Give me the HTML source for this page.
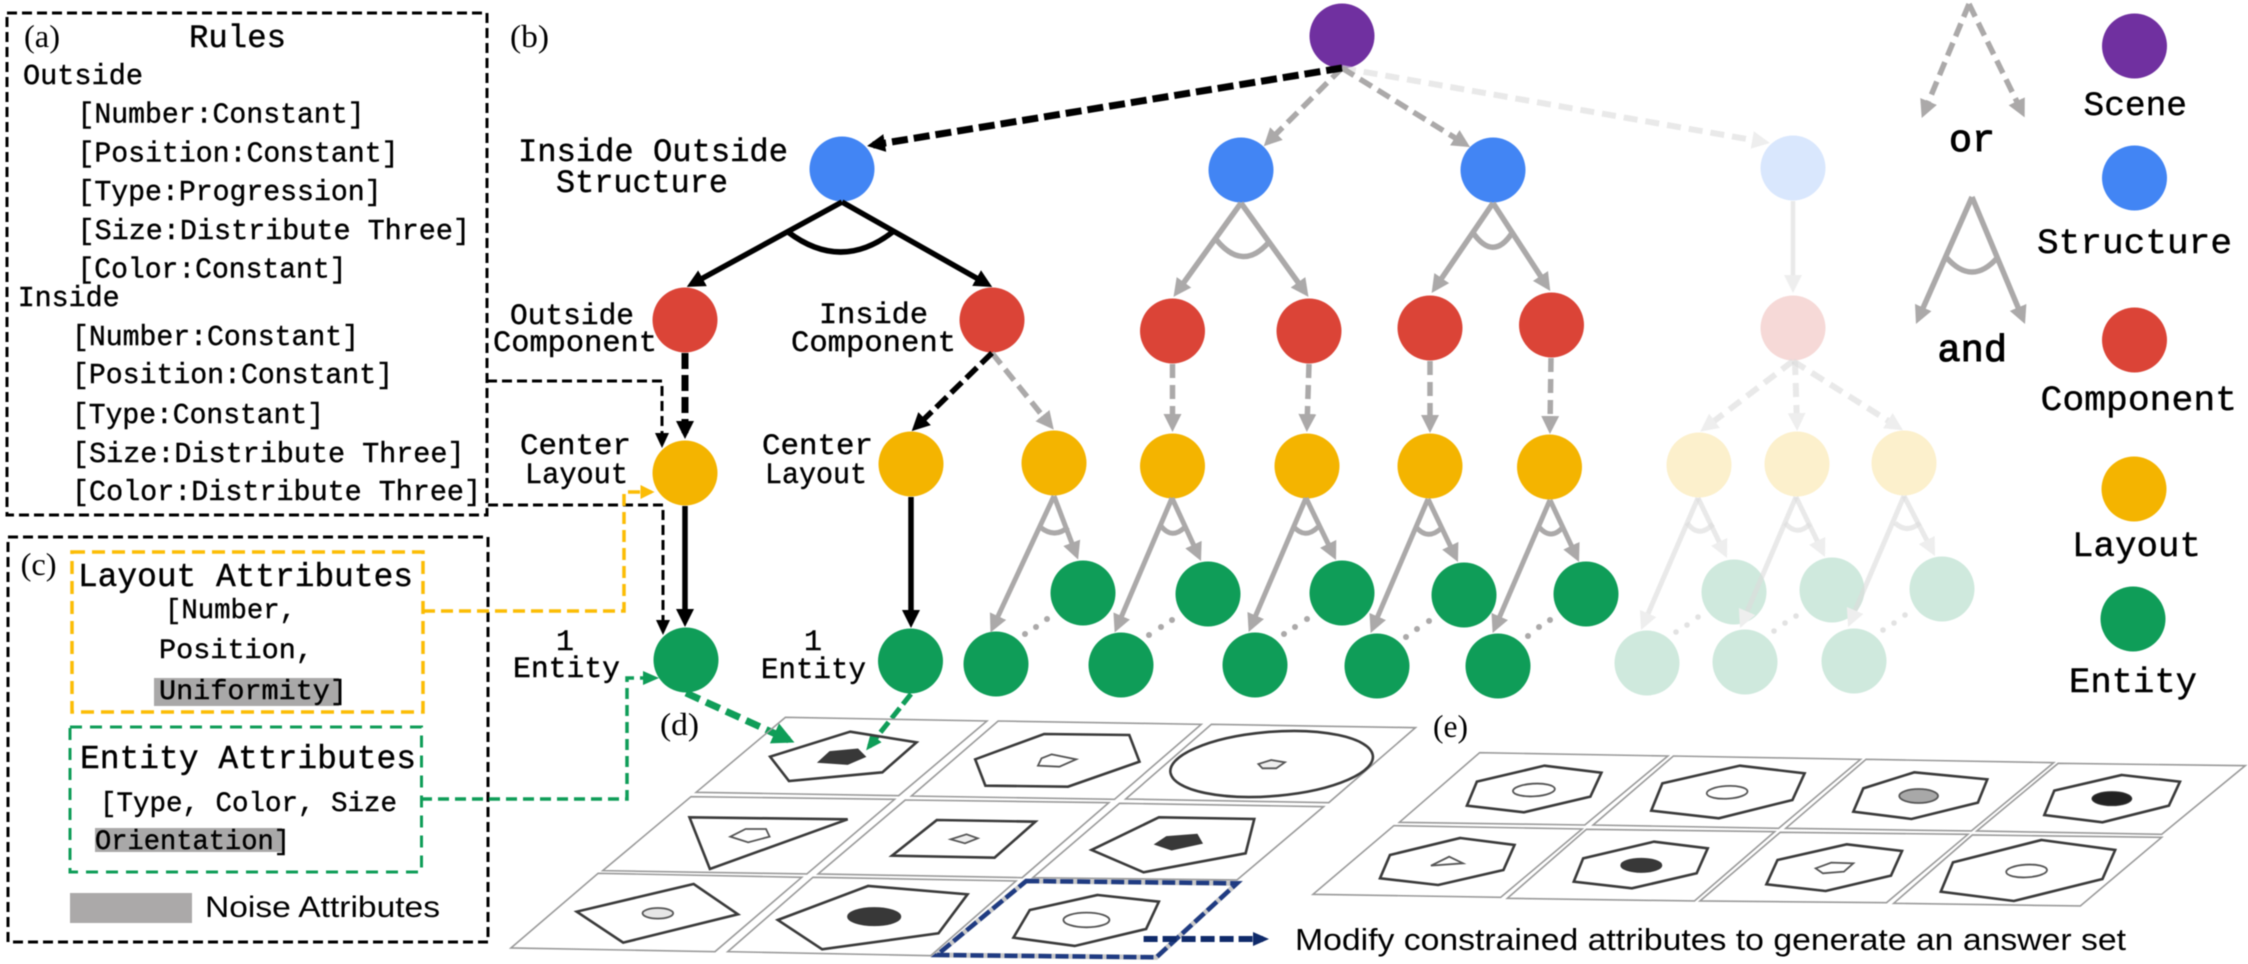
<!DOCTYPE html>
<html lang="en"><head><meta charset="utf-8"><title>Diagram</title>
<style>
html,body{margin:0;padding:0;background:#fff;width:2248px;height:964px;overflow:hidden}
svg{display:block;filter:blur(.4px)}
text{fill:#000}
.m{font-family:"Liberation Mono",monospace;stroke:#000;stroke-width:.4}
.b{stroke-width:1}
.s{font-family:"Liberation Serif",serif;font-size:32px}
.a{font-family:"Liberation Sans",sans-serif}
.r{font-size:28.4px}
.k{fill:none;stroke:#000}
.g{fill:none;stroke:#aba9a9}
.cell{fill:none;stroke:#9a9a9a;stroke-width:1.6;vector-effect:non-scaling-stroke}
.sh{fill:none;stroke:#3a3a3a;stroke-width:2.6;vector-effect:non-scaling-stroke}
.in{fill:#fff;stroke:#555;stroke-width:1.8;vector-effect:non-scaling-stroke}
.dk{fill:#383838;stroke:#383838;stroke-width:1;vector-effect:non-scaling-stroke}
</style></head><body>
<svg width="2248" height="964" viewBox="0 0 2248 964" xmlns="http://www.w3.org/2000/svg">
<defs>
<marker id="ak" markerUnits="userSpaceOnUse" markerWidth="20" markerHeight="20" refX="12" refY="10" orient="auto"><path d="M0,1 L18,10 L0,19 Z" fill="#000"/></marker>
<marker id="ag" markerUnits="userSpaceOnUse" markerWidth="20" markerHeight="20" refX="12" refY="10" orient="auto"><path d="M0,1 L18,10 L0,19 Z" fill="#aba9a9"/></marker>
<marker id="af" markerUnits="userSpaceOnUse" markerWidth="20" markerHeight="20" refX="12" refY="10" orient="auto"><path d="M0,1 L18,10 L0,19 Z" fill="#eee"/></marker>
<marker id="as" markerUnits="userSpaceOnUse" markerWidth="16" markerHeight="16" refX="12" refY="8" orient="auto"><path d="M0,1 L15,8 L0,15 Z" fill="#000"/></marker>
<marker id="ay" markerUnits="userSpaceOnUse" markerWidth="16" markerHeight="16" refX="11" refY="8" orient="auto"><path d="M0,1 L14,8 L0,15 Z" fill="#fbbc05"/></marker>
<marker id="an" markerUnits="userSpaceOnUse" markerWidth="18" markerHeight="16" refX="13" refY="8" orient="auto"><path d="M0,1 L16,8 L0,15 Z" fill="#0f9d58"/></marker>
<marker id="aG" markerUnits="userSpaceOnUse" markerWidth="24" markerHeight="24" refX="16" refY="12" orient="auto"><path d="M0,1 L22,12 L0,23 Z" fill="#0f9d58"/></marker>
<marker id="aN" markerUnits="userSpaceOnUse" markerWidth="18" markerHeight="16" refX="10" refY="8" orient="auto"><path d="M0,1 L16,8 L0,15 Z" fill="#0f2a6a"/></marker>
</defs>

<!-- panel boxes -->
<rect x="7" y="13" width="480" height="502" fill="none" stroke="#000" stroke-width="3" stroke-dasharray="10 5"/>
<rect x="8" y="537" width="480" height="405" fill="none" stroke="#000" stroke-width="3" stroke-dasharray="10 5"/>
<rect x="72" y="552" width="351" height="160" fill="none" stroke="#fbbc05" stroke-width="3.5" stroke-dasharray="13 7"/>
<rect x="70" y="727" width="351.5" height="145" fill="none" stroke="#0f9d58" stroke-width="3" stroke-dasharray="12 8"/>
<rect x="154" y="678" width="185" height="28" fill="#a9a8a8"/>
<rect x="95" y="828" width="187" height="24" fill="#a9a8a8"/>
<rect x="70" y="893" width="122" height="30" fill="#aba9a9"/>

<!-- panel a text -->
<text class="s" x="24" y="47" textLength="36" lengthAdjust="spacingAndGlyphs">(a)</text>
<text class="m" x="189" y="47" font-size="32" textLength="97" lengthAdjust="spacingAndGlyphs">Rules</text>
<text class="m r" x="23" y="84" textLength="120" lengthAdjust="spacingAndGlyphs">Outside</text>
<text class="m r" x="77.5" y="122.7" textLength="287" lengthAdjust="spacingAndGlyphs">[Number:Constant]</text>
<text class="m r" x="77.5" y="161.7" textLength="321" lengthAdjust="spacingAndGlyphs">[Position:Constant]</text>
<text class="m r" x="77.5" y="200" textLength="304" lengthAdjust="spacingAndGlyphs">[Type:Progression]</text>
<text class="m r" x="77.5" y="239" textLength="392.5" lengthAdjust="spacingAndGlyphs">[Size:Distribute Three]</text>
<text class="m r" x="77.5" y="277.7" textLength="269" lengthAdjust="spacingAndGlyphs">[Color:Constant]</text>
<text class="m r" x="17.7" y="306" textLength="102" lengthAdjust="spacingAndGlyphs">Inside</text>
<text class="m r" x="72" y="345" textLength="287" lengthAdjust="spacingAndGlyphs">[Number:Constant]</text>
<text class="m r" x="72" y="383" textLength="321" lengthAdjust="spacingAndGlyphs">[Position:Constant]</text>
<text class="m r" x="72" y="423" textLength="252" lengthAdjust="spacingAndGlyphs">[Type:Constant]</text>
<text class="m r" x="72" y="462" textLength="392.5" lengthAdjust="spacingAndGlyphs">[Size:Distribute Three]</text>
<text class="m r" x="72" y="500" textLength="409" lengthAdjust="spacingAndGlyphs">[Color:Distribute Three]</text>

<!-- panel c text -->
<text class="s" x="20.6" y="575" textLength="36" lengthAdjust="spacingAndGlyphs">(c)</text>
<text class="m" x="78" y="586" font-size="33" textLength="335" lengthAdjust="spacingAndGlyphs">Layout Attributes</text>
<text class="m" x="165" y="618" font-size="28" textLength="131" lengthAdjust="spacingAndGlyphs">[Number,</text>
<text class="m" x="159" y="658" font-size="28" textLength="154" lengthAdjust="spacingAndGlyphs">Position,</text>
<text class="m" x="159" y="699" font-size="28" textLength="188" lengthAdjust="spacingAndGlyphs">Uniformity]</text>
<text class="m" x="80" y="768" font-size="33" textLength="336" lengthAdjust="spacingAndGlyphs">Entity Attributes</text>
<text class="m" x="100" y="811" font-size="28" textLength="297" lengthAdjust="spacingAndGlyphs">[Type, Color, Size</text>
<text class="m" x="95" y="849" font-size="28" textLength="195" lengthAdjust="spacingAndGlyphs">Orientation]</text>
<text class="a" x="205" y="917" font-size="30" textLength="235" lengthAdjust="spacingAndGlyphs">Noise Attributes</text>

<!-- tree labels -->
<text class="s" x="510" y="47" textLength="39" lengthAdjust="spacingAndGlyphs">(b)</text>
<text class="m" x="518" y="161" font-size="32" textLength="270" lengthAdjust="spacingAndGlyphs">Inside Outside</text>
<text class="m" x="556" y="192" font-size="32" textLength="172" lengthAdjust="spacingAndGlyphs">Structure</text>
<text class="m" x="510" y="324" font-size="30" textLength="124" lengthAdjust="spacingAndGlyphs">Outside</text>
<text class="m" x="493" y="351" font-size="30" textLength="164" lengthAdjust="spacingAndGlyphs">Component</text>
<text class="m" x="520" y="454" font-size="30" textLength="111" lengthAdjust="spacingAndGlyphs">Center</text>
<text class="m" x="525" y="483" font-size="30" textLength="103" lengthAdjust="spacingAndGlyphs">Layout</text>
<text class="m" x="556" y="650" font-size="30">1</text>
<text class="m" x="513" y="677" font-size="30" textLength="107" lengthAdjust="spacingAndGlyphs">Entity</text>
<text class="m" x="819" y="323" font-size="30" textLength="109" lengthAdjust="spacingAndGlyphs">Inside</text>
<text class="m" x="791" y="351" font-size="30" textLength="165" lengthAdjust="spacingAndGlyphs">Component</text>
<text class="m" x="762" y="454" font-size="30" textLength="111" lengthAdjust="spacingAndGlyphs">Center</text>
<text class="m" x="765" y="483" font-size="30" textLength="102" lengthAdjust="spacingAndGlyphs">Layout</text>
<text class="m" x="804" y="650" font-size="30">1</text>
<text class="m" x="761" y="678" font-size="30" textLength="105" lengthAdjust="spacingAndGlyphs">Entity</text>
<text class="s" x="660" y="735" textLength="39" lengthAdjust="spacingAndGlyphs">(d)</text>
<text class="s" x="1433" y="737" textLength="35" lengthAdjust="spacingAndGlyphs">(e)</text>

<!-- legend labels -->
<text class="m" x="2083.5" y="115" font-size="34" textLength="103.5" lengthAdjust="spacingAndGlyphs">Scene</text>
<text class="m b" x="1949" y="151" font-size="38" textLength="46" lengthAdjust="spacingAndGlyphs">or</text>
<text class="m b" x="1937.5" y="361" font-size="38" textLength="69.5" lengthAdjust="spacingAndGlyphs">and</text>
<text class="m" x="2037" y="253" font-size="35" textLength="195" lengthAdjust="spacingAndGlyphs">Structure</text>
<text class="m" x="2040.5" y="410" font-size="35" textLength="196.5" lengthAdjust="spacingAndGlyphs">Component</text>
<text class="m" x="2072" y="556" font-size="35" textLength="129" lengthAdjust="spacingAndGlyphs">Layout</text>
<text class="m" x="2069" y="692" font-size="35" textLength="128" lengthAdjust="spacingAndGlyphs">Entity</text>

<!-- nodes -->
<g fill="#7030a0"><circle cx="1342" cy="36" r="32.5"/><circle cx="2134.5" cy="46" r="32.5"/></g>
<g fill="#4285f4"><circle cx="842" cy="169" r="32.5"/><circle cx="1241" cy="170" r="32.5"/><circle cx="1493" cy="170" r="32.5"/><circle cx="2134.5" cy="178" r="32.5"/></g>
<g fill="#db4437"><circle cx="685" cy="320" r="32.5"/><circle cx="992" cy="320" r="32.5"/><circle cx="1172.5" cy="331" r="32.5"/><circle cx="1309" cy="331" r="32.5"/><circle cx="1430" cy="328" r="32.5"/><circle cx="1551.5" cy="325" r="32.5"/><circle cx="2134.5" cy="340" r="32.5"/></g>
<g fill="#f4b400"><circle cx="685" cy="473" r="32.5"/><circle cx="911" cy="464" r="32.5"/><circle cx="1054" cy="463" r="32.5"/><circle cx="1172.5" cy="466" r="32.5"/><circle cx="1307" cy="466" r="32.5"/><circle cx="1430" cy="466" r="32.5"/><circle cx="1549.5" cy="467" r="32.5"/><circle cx="2134" cy="489" r="32.5"/></g>
<g fill="#0f9d58"><circle cx="686" cy="660" r="32.5"/><circle cx="910.5" cy="661" r="32.5"/><circle cx="1083" cy="593" r="32.5"/><circle cx="1208" cy="594" r="32.5"/><circle cx="1342" cy="593" r="32.5"/><circle cx="1464" cy="595" r="32.5"/><circle cx="1586" cy="594" r="32.5"/><circle cx="996" cy="664" r="32.5"/><circle cx="1121" cy="665" r="32.5"/><circle cx="1255" cy="665" r="32.5"/><circle cx="1377" cy="666" r="32.5"/><circle cx="1498" cy="666" r="32.5"/><circle cx="2133" cy="619" r="32.5"/></g>
<circle cx="1793" cy="168" r="32.5" fill="#d9e7fd"/>
<circle cx="1793" cy="328" r="32.5" fill="#f6d9d7"/>
<g fill="#fcf0cc"><circle cx="1699" cy="465" r="32.5"/><circle cx="1797" cy="464" r="32.5"/><circle cx="1904" cy="463" r="32.5"/></g>
<g fill="#cfe9dd"><circle cx="1734" cy="592" r="32.5"/><circle cx="1832" cy="590" r="32.5"/><circle cx="1942" cy="589" r="32.5"/><circle cx="1647" cy="663" r="32.5"/><circle cx="1745" cy="662" r="32.5"/><circle cx="1854" cy="661" r="32.5"/></g>

<!-- faded arrows -->
<g stroke="#dcdcdc" stroke-opacity=".62" fill="none" stroke-width="6">
<path d="M1342,68 L1764,142" stroke-dasharray="14 8" marker-end="url(#af)"/>
<path d="M1793,201 L1793,287" stroke-width="4.5" marker-end="url(#af)"/>
<path d="M1793,361 L1705,428" stroke-dasharray="14 8" marker-end="url(#af)"/>
<path d="M1795,361 L1797,425" stroke-dasharray="14 8" marker-end="url(#af)"/>
<path d="M1793,361 L1898,427" stroke-dasharray="14 8" marker-end="url(#af)"/>
<g stroke-width="5">
<path d="M1698,498 L1643.4,624.5" marker-end="url(#af)"/><path d="M1698,498 L1724.4,552.6" marker-end="url(#af)"/><path d="M1687,523 Q1699,539 1713,524"/>
<path d="M1796,497 L1742.4,622.5" marker-end="url(#af)"/><path d="M1796,497 L1822.4,551.6" marker-end="url(#af)"/><path d="M1785,523 Q1797,537 1810,524"/>
<path d="M1904,496 L1850.4,621.5" marker-end="url(#af)"/><path d="M1904,496 L1932.2,550.7" marker-end="url(#af)"/><path d="M1895,523 Q1907,534 1920,523"/>
</g></g>
<g fill="#e2e2e2">
<circle cx="1676" cy="632" r="2.8"/><circle cx="1687" cy="625" r="2.8"/><circle cx="1698" cy="617" r="2.8"/>
<circle cx="1774" cy="631" r="2.8"/><circle cx="1785" cy="623" r="2.8"/><circle cx="1796" cy="616" r="2.8"/>
<circle cx="1883" cy="630" r="2.8"/><circle cx="1894" cy="623" r="2.8"/><circle cx="1905" cy="615" r="2.8"/>
</g>

<!-- grey arrows -->
<g class="g" stroke-width="5.5">
<path d="M1342,68 L1268,142" stroke-dasharray="14 7" marker-end="url(#ag)"/>
<path d="M1342,68 L1465,144" stroke-dasharray="14 7" marker-end="url(#ag)"/>
<path d="M1241,203 L1177,292" marker-end="url(#ag)"/><path d="M1241,203 L1305,292" marker-end="url(#ag)"/><path d="M1216.5,240 Q1243,272 1269,242"/>
<path d="M1493,203 L1435,288" marker-end="url(#ag)"/><path d="M1493,203 L1547,286" marker-end="url(#ag)"/><path d="M1472.5,232 Q1493,262 1512,233"/>
<g stroke-dasharray="14 7">
<path d="M992,353 L1050,425" marker-end="url(#ag)"/>
<path d="M1172.5,364 L1172.5,426" marker-end="url(#ag)"/>
<path d="M1309,364 L1307,426" marker-end="url(#ag)"/>
<path d="M1430,361 L1430,427" marker-end="url(#ag)"/>
<path d="M1551,358 L1550,428" marker-end="url(#ag)"/>
</g>
<g stroke-width="5">
<path d="M1054,496 L993,627" marker-end="url(#ag)"/><path d="M1054,496 L1076,554" marker-end="url(#ag)"/><path d="M1040,527 Q1055,539 1068,527"/>
<path d="M1172,498 L1117,627" marker-end="url(#ag)"/><path d="M1172,498 L1198.5,555.5" marker-end="url(#ag)"/><path d="M1161,526 Q1172,540 1185,527"/>
<path d="M1306,498 L1251,626.5" marker-end="url(#ag)"/><path d="M1306,498 L1333.4,554.6" marker-end="url(#ag)"/><path d="M1293,526 Q1305,540 1318,527"/>
<path d="M1428,499 L1373,627.5" marker-end="url(#ag)"/><path d="M1428,499 L1455.4,556.6" marker-end="url(#ag)"/><path d="M1416,527 Q1428,541 1441.5,528"/>
<path d="M1550,500 L1495,627.5" marker-end="url(#ag)"/><path d="M1550,500 L1576.5,556.6" marker-end="url(#ag)"/><path d="M1539,527 Q1551,541 1563,527"/>
</g>
<path d="M1969,4 L1924,112.5" stroke-dasharray="14 7" marker-end="url(#ag)"/>
<path d="M1969,4 L2022,112" stroke-dasharray="14 7" marker-end="url(#ag)"/>
<path d="M1972,197 L1918.4,318.5" marker-end="url(#ag)"/>
<path d="M1972,197 L2022.7,318.5" marker-end="url(#ag)"/>
<path d="M1946,257 Q1972,287 1998,257"/>
</g>
<g fill="#aba9a9">
<circle cx="1025" cy="634" r="3"/><circle cx="1036" cy="627" r="3"/><circle cx="1047" cy="619" r="3"/>
<circle cx="1149" cy="635" r="3"/><circle cx="1161" cy="627" r="3"/><circle cx="1172" cy="620" r="3"/>
<circle cx="1284" cy="634" r="3"/><circle cx="1295" cy="627" r="3"/><circle cx="1307" cy="619" r="3"/>
<circle cx="1406" cy="637" r="3"/><circle cx="1417" cy="629" r="3"/><circle cx="1429" cy="621" r="3"/>
<circle cx="1528" cy="636" r="3"/><circle cx="1539" cy="627" r="3"/><circle cx="1550" cy="620" r="3"/>
</g>

<!-- black arrows -->
<g class="k" stroke-width="7">
<path d="M1342,68 L873,145" stroke-dasharray="16 6" marker-end="url(#ak)"/>
<path d="M842,202 L692,284" stroke-width="5.5" marker-end="url(#ak)"/>
<path d="M842,202 L987,284" stroke-width="5.5" marker-end="url(#ak)"/>
<path d="M788,232 Q841,272 892.6,232" stroke-width="5.5"/>
<path d="M685,353 L685,433" stroke-dasharray="16 6" marker-end="url(#ak)"/>
<path d="M992,353 L916,427" stroke-width="5.5" stroke-dasharray="15 6" marker-end="url(#ak)"/>
<path d="M685,506 L685,621" stroke-width="5.5" marker-end="url(#ak)"/>
<path d="M911,497 L911,622" stroke-width="5.5" marker-end="url(#ak)"/>
<path d="M487,381 H662 V445" stroke-width="3" stroke-dasharray="10 5" marker-end="url(#as)"/>
<path d="M488,505 H663 V632" stroke-width="3" stroke-dasharray="10 5" marker-end="url(#as)"/>
</g>
<path d="M423,611 H624 V492 H651.5" fill="none" stroke="#fbbc05" stroke-width="3.5" stroke-dasharray="12 6" marker-end="url(#ay)"/>
<path d="M421,799 H627 V678 H656" fill="none" stroke="#0f9d58" stroke-width="3.5" stroke-dasharray="11 6" marker-end="url(#an)"/>
<path d="M686,693 L789,740" fill="none" stroke="#0f9d58" stroke-width="7" stroke-dasharray="15 7" marker-end="url(#aG)"/>
<path d="M911,694 L868,748" fill="none" stroke="#0f9d58" stroke-width="5" stroke-dasharray="13 5" marker-end="url(#an)"/>

<!-- panel d -->
<g transform="translate(590,700) scale(.5102,.3333)">
<path class="cell" d="M383,52L778,63L605,287L208,277Z"/>
<path class="cell" d="M800,63L1198,73L1028,298L630,288Z"/>
<path class="cell" d="M1218,73L1618,83L1448,308L1050,297Z"/>
<path class="cell" d="M198,290L597,298L425,522L25,512Z"/>
<path class="cell" d="M618,300L1017,308L847,533L447,522Z"/>
<path class="cell" d="M1038,310L1438,320L1268,540L868,533Z"/>
<path class="cell" d="M415,532L245,755L-155,744L16,520Z"/>
<path class="cell" d="M437,532L835,543L668,767L270,755Z"/>
<path class="sh" d="M510,95L640,127L573,217L390,243L353,170Z"/>
<path class="dk" d="M470,155L525,147L540,170L505,193L447,187Z"/>
<path class="sh" d="M890,102L1057,105L1077,185L937,260L775,257L755,178Z"/>
<path class="in" d="M905,163L953,178L920,200L878,197L885,175Z"/>
<ellipse class="sh" cx="1336" cy="192" rx="200" ry="96" transform="rotate(-8 1336 192)"/>
<path class="in" d="M1335,180L1362,187L1345,205L1318,205L1310,192Z" style="fill:#eee"/>
<path class="sh" d="M195,352L505,358L235,507Z"/>
<path class="in" d="M305,387L345,387L352,410L310,427L275,410Z"/>
<path class="sh" d="M680,360L873,365L793,473L592,467Z"/>
<path class="in" d="M738,403L760,415L735,430L707,418Z" style="fill:#eee"/>
<path class="sh" d="M1115,352L1302,357L1285,460L1085,517L983,450Z"/>
<path class="dk" d="M1130,410L1190,403L1200,430L1140,450L1107,433Z"/>
<path class="sh" d="M203,552L290,643L65,728L-26,635Z"/>
<ellipse class="in" cx="133" cy="640" rx="30" ry="16" style="fill:#e6e6e6"/>
<path class="sh" d="M545,558L740,583L683,700L455,748L368,660Z"/>
<ellipse class="dk" cx="557" cy="650" rx="52" ry="27"/>
<path class="sh" d="M995,585L1115,605L1090,687L950,738L830,713L862,630Z"/>
<ellipse class="in" cx="973" cy="660" rx="45" ry="22"/>
<path class="cell" d="M855,543L1268,550L1110,772L680,765Z" style="stroke:#c8c8c8;stroke-width:5"/>
<path d="M855,543L1268,550L1110,772L680,765Z" fill="none" stroke="#1f3b82" stroke-width="4.5" stroke-dasharray="13 4" style="vector-effect:non-scaling-stroke"/>
</g>

<!-- panel e -->
<g transform="translate(1380,700) scale(.5536,.3333)">
<path class="cell" d="M180,158L520,168L370,375L35,367Z"/>
<path class="cell" d="M530,168L868,178L720,385L385,375Z"/>
<path class="cell" d="M878,178L1217,188L1068,393L733,385Z"/>
<path class="cell" d="M1225,190L1563,197L1412,403L1078,393Z"/>
<path class="cell" d="M25,377L365,387L218,592L-121,583Z"/>
<path class="cell" d="M373,388L713,395L568,603L230,595Z"/>
<path class="cell" d="M723,397L1062,403L915,608L578,603Z"/>
<path class="cell" d="M1070,405L1412,412L1265,618L928,610Z"/>
<path class="sh" d="M297,197L400,218L380,290L260,337L157,317L175,245Z"/>
<ellipse class="in" cx="278" cy="270" rx="38" ry="19" transform="rotate(-6 278 270)"/>
<path class="sh" d="M650,197L767,220L745,300L612,355L490,332L510,250Z"/>
<ellipse class="in" cx="627" cy="277" rx="37" ry="19" transform="rotate(-6 627 277)"/>
<path class="sh" d="M965,217L1097,238L1080,308L960,357L855,335L873,265Z"/>
<ellipse class="in" cx="973" cy="288" rx="35" ry="21" style="fill:#a8a8a8"/>
<path class="sh" d="M1340,225L1445,245L1425,317L1305,367L1200,345L1218,272Z"/>
<ellipse class="dk" cx="1322" cy="296" rx="36" ry="21" style="fill:#222"/>
<path class="sh" d="M145,414L243,435L223,510L105,555L0,535L18,465Z"/>
<path class="in" d="M125,470L150,490L92,497Z"/>
<path class="sh" d="M495,425L592,445L572,520L455,565L350,545L367,475Z"/>
<ellipse class="dk" cx="472" cy="496" rx="37" ry="21"/>
<path class="sh" d="M843,433L943,453L923,527L805,573L698,553L718,480Z"/>
<path class="in" d="M815,488L855,490L838,515L800,520L787,505Z"/>
<path class="sh" d="M1195,420L1328,450L1305,537L1145,603L1013,575L1035,487Z"/>
<ellipse class="in" cx="1168" cy="513" rx="37" ry="19" transform="rotate(-6 1168 513)"/>
</g>

<!-- answer-set arrow -->
<path d="M1143.6,939 L1263,939" fill="none" stroke="#0f2a6a" stroke-width="6" stroke-dasharray="14 5" marker-end="url(#aN)"/>
<text class="a" x="1295" y="950" font-size="31" textLength="831" lengthAdjust="spacingAndGlyphs">Modify constrained attributes to generate an answer set</text>
</svg>
</body></html>
